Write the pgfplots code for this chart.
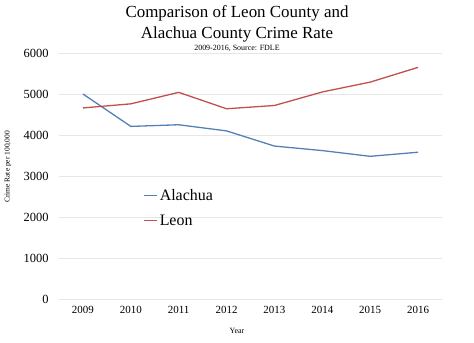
\documentclass[border=0pt]{standalone}
\usepackage{pgfplots}
\pgfplotsset{compat=1.18}
\usepackage{fontspec}
\setmainfont{Liberation Serif}
\definecolor{alachua}{HTML}{5580B5}
\definecolor{leon}{HTML}{C0504D}
\definecolor{gridc}{HTML}{E6E6E6}
\begin{document}
\begin{tikzpicture}[x=1bp,y=1bp]
\useasboundingbox (0,0) rectangle (474,342);
\begin{axis}[
  at={(59bp,43bp)}, anchor=south west,
  scale only axis, width=383bp, height=246bp,
  xmin=2008.5, xmax=2016.5, ymin=0, ymax=6000,
  xtick={2009,...,2016}, ytick={0,1000,...,6000},
  xticklabel={\pgfmathprintnumber[assume math mode=true,1000 sep={}]{\tick}},
  yticklabel={\pgfmathprintnumber[assume math mode=true,1000 sep={}]{\tick}},
  xticklabel style={font=\fontsize{11}{13}\selectfont, yshift=-4bp},
  yticklabel style={font=\fontsize{12.5}{14}\selectfont, xshift=-7bp},
  axis line style={draw=none},
  major tick length=0pt,
  ymajorgrids, grid style={gridc, line width=0.8pt},
  legend style={at={(0.22,0.455)}, anchor=north west, draw=none, fill=none,
    font=\fontsize{16}{20}\selectfont, row sep=9bp, inner sep=0pt},
  legend image code/.code={\draw[#1] (0bp,0bp) -- (13bp,0bp);},
  legend cell align=left,
  every axis plot/.append style={line width=1.3pt},
]
\addplot[color=alachua] coordinates {(2009,5000) (2010,4210) (2011,4250) (2012,4100) (2013,3730) (2014,3620) (2015,3480) (2016,3580)};
\addlegendentry{Alachua}
\addplot[color=leon] coordinates {(2009,4660) (2010,4760) (2011,5040) (2012,4640) (2013,4720) (2014,5050) (2015,5290) (2016,5650)};
\addlegendentry{Leon}
\end{axis}
\node[font=\fontsize{17}{21}\selectfont, align=center, anchor=north] at (237,340) {Comparison of Leon County and\\Alachua County Crime Rate};
\node[font=\fontsize{8}{9}\selectfont, anchor=center] at (237,294) {2009-2016, Source: FDLE};
\node[font=\fontsize{7.5}{9}\selectfont, rotate=90] at (8,175) {Crime Rate per 100,000};
\node[font=\fontsize{8}{9}\selectfont] at (237,11) {Year};
\end{tikzpicture}
\end{document}
